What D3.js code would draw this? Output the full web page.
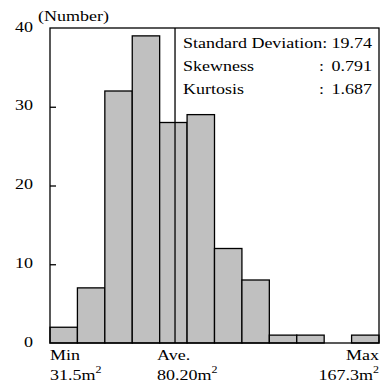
<!DOCTYPE html>
<html>
<head>
<meta charset="utf-8">
<script src="https://cdn.jsdelivr.net/npm/d3@7"></script>
<style>
  html, body { margin: 0; padding: 0; background: #fff; }
  svg { display: block; }
  text { font-family: "Liberation Serif", "DejaVu Serif", serif; fill: #000; }
</style>
</head>
<body>
<svg id="chart" width="380" height="387"></svg>
<script>
// ---- data ----
const binCounts = [2, 7, 32, 39, 28, 29, 12, 8, 1, 1, 0, 1];
const yTicks = [0, 10, 20, 30, 40];
const aveBinPosition = 4.56;           // average location measured in bin units
const statLabels = ["Standard Deviation:", "Skewness", "Kurtosis"];
const statValues = ["19.74", "0.791", "1.687"];
const xLabelNames = ["Min", "Ave.", "Max"];
const xLabelValues = ["31.5", "80.20", "167.3"];

// ---- layout ----
const mLeft = 50, mRight = 379, mTop = 28, mBottom = 343;
const FS = 15, SX = 1.2;               // font size, horizontal stretch of the serif face
const svg = d3.select("#chart");

const x = d3.scaleLinear().domain([0, binCounts.length]).range([mLeft, mRight]);
const y = d3.scaleLinear().domain([0, 40]).range([mBottom, mTop]);

function label(parent, px, py, str, anchor) {
  const g = parent.append("g").attr("transform", `translate(${px},${py}) scale(${SX},1)`);
  return g.append("text").attr("font-size", FS).attr("text-anchor", anchor || "start").text(str);
}

// bars
svg.append("g").selectAll("rect")
  .data(binCounts.map((c, i) => ({ c, i })).filter(d => d.c > 0))
  .join("rect")
  .attr("x", d => x(d.i))
  .attr("y", d => y(d.c))
  .attr("width", d => x(d.i + 1) - x(d.i))
  .attr("height", d => y(0) - y(d.c))
  .attr("fill", "#c0c0c0")
  .attr("stroke", "#000")
  .attr("stroke-width", 1.3);

// frame
svg.append("rect")
  .attr("x", mLeft).attr("y", mTop)
  .attr("width", mRight - mLeft).attr("height", mBottom - mTop)
  .attr("fill", "none").attr("stroke", "#000").attr("stroke-width", 1.3);

// y axis (inward ticks)
const yAxis = d3.axisLeft(y).tickValues(yTicks).tickSizeInner(-6).tickSizeOuter(0).tickPadding(0);
const gy = svg.append("g").attr("transform", `translate(${mLeft},0)`).call(yAxis);
gy.select(".domain").remove();
gy.selectAll(".tick line").attr("stroke", "#000").attr("stroke-width", 1.3)
  .filter(d => d === 0 || d === 40).remove();
gy.selectAll(".tick text")
  .style("font-family", "'Liberation Serif', serif")
  .attr("font-size", FS)
  .attr("x", 0).attr("dy", 0)
  .attr("transform", `translate(-17,3) scale(${SX},1)`)
  .attr("fill", "#000");

// unit label
label(svg, 38, 21, "(Number)");

// average line
svg.append("line")
  .attr("x1", x(aveBinPosition)).attr("x2", x(aveBinPosition))
  .attr("y1", y(40)).attr("y2", y(0))
  .attr("stroke", "#000").attr("stroke-width", 1.3);

// stats text
const statY = [48, 71, 94];
statLabels.forEach((lab, i) => {
  label(svg, 183, statY[i], lab);
  if (i > 0) label(svg, 319, statY[i], ":");
  label(svg, 372, statY[i], statValues[i], "end");
});

// x labels
const xLabelPos = [x(0), x(aveBinPosition) - 18, x(binCounts.length)];
const xAnchors = ["start", "start", "end"];
xLabelNames.forEach((n, i) => {
  label(svg, xLabelPos[i], 360, n, xAnchors[i]);
  const t = label(svg, xLabelPos[i], 380, null, xAnchors[i]);
  t.append("tspan").text(xLabelValues[i] + "m");
  t.append("tspan").attr("font-size", 10).attr("dy", -7).text("2");
});
</script>
</body>
</html>
